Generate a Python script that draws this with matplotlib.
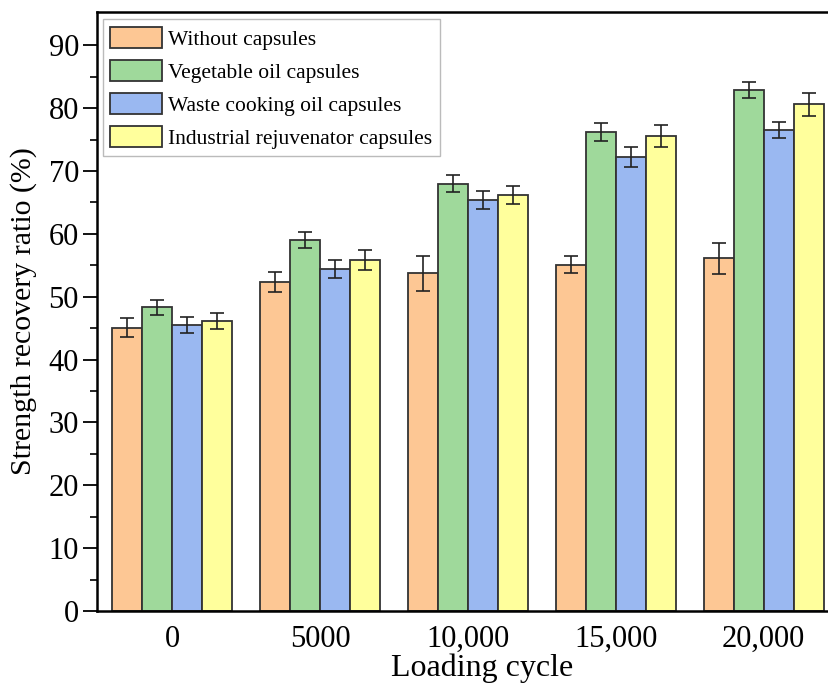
import numpy as np
import matplotlib.pyplot as plt

plt.rcParams['font.family'] = ['Liberation Serif', 'DejaVu Serif']

cycles = ['0', '5000', '10,000', '15,000', '20,000']
series = ['Without capsules', 'Vegetable oil capsules',
          'Waste cooking oil capsules', 'Industrial rejuvenator capsules']
without = [45.1, 52.4, 53.7, 55.1, 56.1]
veg_oil = [48.3, 59.0, 68.0, 76.2, 82.9]
waste_oil = [45.5, 54.4, 65.4, 72.2, 76.5]
industrial = [46.1, 55.9, 66.2, 75.6, 80.6]
without_err = [1.5, 1.6, 2.8, 1.4, 2.5]
veg_err = [1.2, 1.3, 1.3, 1.5, 1.2]
waste_err = [1.3, 1.45, 1.5, 1.6, 1.3]
industrial_err = [1.3, 1.6, 1.45, 1.75, 1.8]
colors = ['#fdc794', '#9fd99b', '#9ab8f1', '#ffff9c']

values = [without, veg_oil, waste_oil, industrial]
errors = [without_err, veg_err, waste_err, industrial_err]

fig = plt.figure(figsize=(8.29, 6.83), dpi=100)
# plot area runs past the right edge of the image, as in the original crop
ax = fig.add_axes([0.117, 0.1054, 0.929, 0.877])

x = np.arange(len(cycles))
w = 0.203
for i, (vals, errs) in enumerate(zip(values, errors)):
    ax.bar(x + (i - 1.5) * w, vals, w, color=colors[i], edgecolor='#333333',
           linewidth=1.3, label=series[i], zorder=2)
    ax.errorbar(x + (i - 1.5) * w, vals, yerr=errs, fmt='none', ecolor='#222222',
                elinewidth=1.2, capsize=5, capthick=1.2, zorder=3)

ax.set_xlim(-0.51, 4.70)
ax.set_ylim(0, 95.3)
ax.set_yticks(np.arange(0, 91, 10))
ax.set_yticks(np.arange(0, 95, 5), minor=True)
ax.set_xticks(x)
ax.set_xticklabels(cycles)
ax.tick_params(axis='y', which='major', direction='out', length=10, width=1.3, labelsize=22, pad=3)
ax.tick_params(axis='y', which='minor', direction='out', length=5, width=1.2)
ax.tick_params(axis='x', length=0, labelsize=22, pad=10)
for s in ax.spines.values():
    s.set_linewidth(1.8)

ax.set_ylabel('Strength recovery ratio (%)', fontsize=21.5, labelpad=8)
ax.set_xlabel('Loading cycle', fontsize=23, labelpad=0)

leg = ax.legend(loc='upper left', bbox_to_anchor=(0.124, 0.972),
                bbox_transform=fig.transFigure, fontsize=15.5, frameon=True,
                fancybox=False, edgecolor='#aaaaaa', handlelength=2.4,
                handleheight=1.15, handletextpad=0.3, labelspacing=0.47,
                borderpad=0.35, borderaxespad=0)
leg.get_frame().set_linewidth(1.0)

fig.savefig('out.png', dpi=100)
